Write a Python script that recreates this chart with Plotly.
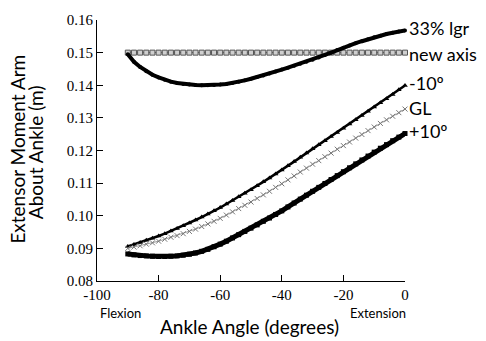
import plotly.graph_objects as go

# Ankle angle (degrees), sampled every 2 degrees
ANGLE = [-90, -88, -86, -84, -82, -80, -78, -76, -74, -72,
         -70, -68, -66, -64, -62, -60, -58, -56, -54, -52,
         -50, -48, -46, -44, -42, -40, -38, -36, -34, -32,
         -30, -28, -26, -24, -22, -20, -18, -16, -14, -12,
         -10, -8, -6, -4, -2, 0]

LGR33 = [0.1495, 0.1472, 0.1456, 0.1443, 0.1432, 0.1424, 0.1417, 0.1411, 0.1407, 0.1404,
         0.1402, 0.1401, 0.1400, 0.1400, 0.1401, 0.1402, 0.1404, 0.1407, 0.1411, 0.1415,
         0.1420, 0.1425, 0.1430, 0.1436, 0.1442, 0.1448, 0.1454, 0.1460, 0.1466, 0.1472,
         0.1478, 0.1485, 0.1493, 0.1500, 0.1508, 0.1515, 0.1522, 0.1529, 0.1535, 0.1541,
         0.1547, 0.1552, 0.1557, 0.1561, 0.1565, 0.1568]

NEW_AXIS = [0.15] * len(ANGLE)

MINUS10 = [0.0906, 0.0912, 0.0918, 0.0925, 0.0931, 0.0938, 0.0945, 0.0953, 0.0961, 0.0969,
           0.0978, 0.0987, 0.0996, 0.1005, 0.1015, 0.1025, 0.1036, 0.1047, 0.1058, 0.1069,
           0.1080, 0.1092, 0.1104, 0.1116, 0.1128, 0.1140, 0.1153, 0.1166, 0.1179, 0.1192,
           0.1205, 0.1218, 0.1230, 0.1243, 0.1255, 0.1268, 0.1281, 0.1294, 0.1307, 0.1320,
           0.1333, 0.1346, 0.1359, 0.1372, 0.1386, 0.1399]

GL = [0.0900, 0.0904, 0.0908, 0.0913, 0.0917, 0.0922, 0.0928, 0.0934, 0.0939, 0.0945,
      0.0952, 0.0959, 0.0967, 0.0975, 0.0983, 0.0992, 0.1002, 0.1012, 0.1022, 0.1032,
      0.1042, 0.1053, 0.1064, 0.1075, 0.1087, 0.1098, 0.1110, 0.1122, 0.1134, 0.1146,
      0.1158, 0.1169, 0.1181, 0.1192, 0.1204, 0.1215, 0.1226, 0.1238, 0.1249, 0.1261,
      0.1272, 0.1283, 0.1294, 0.1305, 0.1316, 0.1327]

PLUS10 = [0.0883, 0.0880, 0.0878, 0.0877, 0.0876, 0.0875, 0.0875, 0.0876, 0.0877, 0.0879,
          0.0882, 0.0886, 0.0891, 0.0897, 0.0905, 0.0913, 0.0922, 0.0932, 0.0942, 0.0952,
          0.0962, 0.0972, 0.0983, 0.0993, 0.1004, 0.1015, 0.1027, 0.1039, 0.1051, 0.1063,
          0.1075, 0.1087, 0.1099, 0.1111, 0.1123, 0.1135, 0.1147, 0.1159, 0.1171, 0.1183,
          0.1195, 0.1207, 0.1218, 0.1230, 0.1241, 0.1252]

LABELS = ["33% lgr", "new axis", "-10º", "GL", "+10º"]
LABEL_Y = [0.1576, 0.1497, 0.1407, 0.1331, 0.1259]

X_TICKS = [-100, -80, -60, -40, -20, 0]
X_TICK_TEXT = ["-100", "-80", "-60", "-40", "-20", "0"]
Y_TICKS = [0.08, 0.09, 0.10, 0.11, 0.12, 0.13, 0.14, 0.15, 0.16]
Y_TICK_TEXT = ["0.08", "0.09", "0.10", "0.11", "0.12", "0.13", "0.14", "0.15", "0.16"]

SANS = "Lato, 'Open Sans', sans-serif"
SERIF = "'Liberation Serif', 'Times New Roman', serif"

fig = go.Figure()

fig.add_trace(go.Scatter(
    x=ANGLE, y=NEW_AXIS, mode="lines+markers", cliponaxis=False,
    line=dict(color="#555555", width=1),
    marker=dict(symbol="square", size=5, color="#cfcfcf",
                line=dict(color="#555555", width=1)),
    showlegend=False))

fig.add_trace(go.Scatter(
    x=ANGLE, y=LGR33, mode="lines+markers", cliponaxis=False,
    line=dict(color="black", width=4),
    marker=dict(symbol="circle", size=4, color="black"),
    showlegend=False))

fig.add_trace(go.Scatter(
    x=ANGLE, y=MINUS10, mode="lines+markers", cliponaxis=False,
    line=dict(color="black", width=2.5),
    marker=dict(symbol="triangle-up", size=5, color="black"),
    showlegend=False))

fig.add_trace(go.Scatter(
    x=ANGLE, y=GL, mode="lines+markers", cliponaxis=False,
    line=dict(color="#999999", width=1),
    marker=dict(symbol="x-thin-open", size=5, color="#777777",
                line=dict(color="#777777", width=1)),
    showlegend=False))

fig.add_trace(go.Scatter(
    x=ANGLE, y=PLUS10, mode="lines+markers", cliponaxis=False,
    line=dict(color="black", width=5),
    marker=dict(symbol="square", size=5, color="black"),
    showlegend=False))

annotations = []
for text, yv in zip(LABELS, LABEL_Y):
    annotations.append(dict(
        x=0, y=yv, xref="x", yref="y", text=text, showarrow=False,
        xanchor="left", yanchor="middle", xshift=2,
        font=dict(family=SANS, size=18, color="black")))

annotations += [
    dict(x=-0.2610, y=0.5057, xref="paper", yref="paper",
         text="Extensor Moment Arm", textangle=-90, showarrow=False,
         xanchor="center", yanchor="middle",
         font=dict(family=SANS, size=19, color="black")),
    dict(x=-0.2010, y=0.494, xref="paper", yref="paper",
         text="About Ankle (m)", textangle=-90, showarrow=False,
         xanchor="center", yanchor="middle",
         font=dict(family=SANS, size=19, color="black")),
    dict(x=0.496, y=-0.1736, xref="paper", yref="paper",
         text="Ankle Angle (degrees)", showarrow=False,
         xanchor="center", yanchor="middle",
         font=dict(family=SANS, size=19, color="black")),
    dict(x=0.003, y=-0.1208, xref="paper", yref="paper",
         text="Flexion", showarrow=False,
         xanchor="left", yanchor="middle",
         font=dict(family=SANS, size=13, color="black")),
    dict(x=1.01, y=-0.1208, xref="paper", yref="paper",
         text="Extension", showarrow=False,
         xanchor="right", yanchor="middle",
         font=dict(family=SANS, size=13, color="black")),
]

fig.update_layout(
    width=486, height=341,
    margin=dict(l=97, r=81, t=16, b=60),
    paper_bgcolor="white", plot_bgcolor="white",
    annotations=annotations,
    xaxis=dict(range=[-100, 0], tickvals=X_TICKS, ticktext=X_TICK_TEXT,
               ticks="inside", ticklen=6,
               tickcolor="black", showline=True, linecolor="black", linewidth=1,
               showgrid=False, zeroline=False,
               tickfont=dict(family=SERIF, size=15, color="black")),
    yaxis=dict(range=[0.08, 0.16], tickvals=Y_TICKS, ticktext=Y_TICK_TEXT,
               ticks="inside", ticklen=6, tickcolor="black",
               showline=True, linecolor="black", linewidth=1,
               showgrid=False, zeroline=False,
               tickfont=dict(family=SERIF, size=15, color="black")),
)

fig.write_html("out.html")
